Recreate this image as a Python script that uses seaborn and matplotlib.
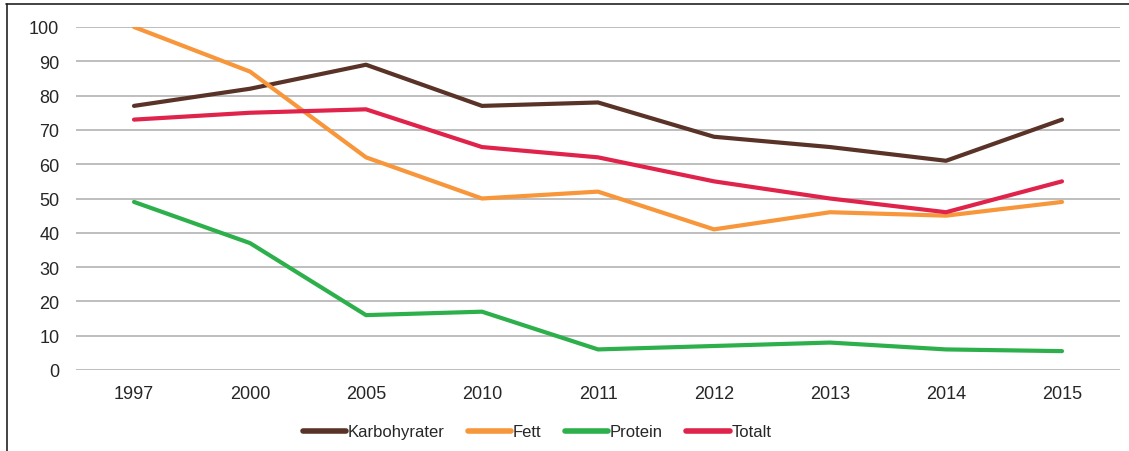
import matplotlib
matplotlib.use("Agg")
import matplotlib.pyplot as plt
import seaborn as sns
import pandas as pd
from matplotlib.lines import Line2D

years = ["1997", "2000", "2005", "2010", "2011", "2012", "2013", "2014", "2015"]
karbohyrater = [77, 82, 89, 77, 78, 68, 65, 61, 73]
fett = [100, 87, 62, 50, 52, 41, 46, 45, 49]
protein = [49, 37, 16, 17, 6, 7, 8, 6, 5.5]
totalt = [73, 75, 76, 65, 62, 55, 50, 46, 55]
series_names = ["Karbohyrater", "Fett", "Protein", "Totalt"]
colors = ["#5a3328", "#f7963a", "#2db04b", "#e0234b"]

rows = []
for name, vals in zip(series_names, [karbohyrater, fett, protein, totalt]):
    for i, (y, v) in enumerate(zip(years, vals)):
        rows.append({"pos": i, "year": y, "value": v, "series": name})
df = pd.DataFrame(rows)

sns.set_theme(style="white")
plt.rcParams["font.family"] = ["Liberation Sans", "DejaVu Sans"]

fig = plt.figure(figsize=(11.29, 4.52), dpi=100)
W, H = 1129, 452
ax = fig.add_axes([76 / W, 1 - 371 / H, (1120 - 76) / W, (371 - 28) / H])

sns.lineplot(data=df, x="pos", y="value", hue="series", palette=colors,
             hue_order=series_names, linewidth=3.0, ax=ax, legend=False,
             sort=False, zorder=3)

ax.set_xlim(-0.5, len(years) - 0.5)
ax.set_ylim(0, 100)
ax.set_yticks(range(0, 101, 10))
ax.set_xticks(range(len(years)))
ax.set_xticklabels(years)
ax.yaxis.grid(True, color="#b3b3b3", linewidth=1.2, zorder=0)
ax.xaxis.grid(False)
for s in ax.spines.values():
    s.set_visible(False)
ax.tick_params(axis="both", length=0, labelsize=13, labelcolor="#262626")
ax.tick_params(axis="y", pad=12)
ax.tick_params(axis="x", pad=10.5)
ax.set_xlabel("")
ax.set_ylabel("")

handles = [Line2D([0], [0], color=c, linewidth=4) for c in colors]
fig.legend(handles, series_names, loc="center", bbox_to_anchor=(537 / W, 1 - 433 / H),
           ncol=4, frameon=False, fontsize=12, handlelength=2.6, handletextpad=0.1,
           columnspacing=1.4, labelcolor="#262626")

# frame lines around the figure (top and left)
fig.add_artist(Line2D([6 / W, 1.0], [1 - 5 / H, 1 - 5 / H], color="#222222", linewidth=1.2,
                      transform=fig.transFigure))
fig.add_artist(Line2D([7 / W, 7 / W], [0, 1 - 5 / H], color="#222222", linewidth=1.2,
                      transform=fig.transFigure))

fig.savefig("out.png", dpi=100)
